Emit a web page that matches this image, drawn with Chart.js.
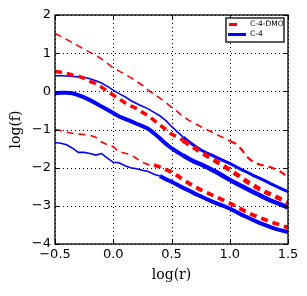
<!DOCTYPE html>
<html>
<head>
<meta charset="utf-8">
<script src="https://cdn.jsdelivr.net/npm/chart.js@4.4.1/dist/chart.umd.min.js"></script>
<style>
  html, body { margin: 0; padding: 0; background: #fff; }
  #wrap { width: 307px; height: 296px; }
</style>
</head>
<body>
<div id="wrap"><canvas id="chart" width="307" height="296"></canvas></div>
<script>
// log(r) sample points shared by every curve
var logR = [-0.5, -0.45, -0.4, -0.35, -0.3, -0.25, -0.2, -0.15, -0.1, -0.05,
    0, 0.05, 0.1, 0.15, 0.2, 0.25, 0.3, 0.35, 0.4, 0.45,
    0.5, 0.55, 0.6, 0.65, 0.7, 0.75, 0.8, 0.85, 0.9, 0.95,
    1.0, 1.05, 1.1, 1.15, 1.2, 1.25, 1.3, 1.35, 1.4, 1.45, 1.5];

// C-4-DMO (red, dashed)
var dmoTop = [1.52, 1.44, 1.36, 1.27, 1.19, 1.10, 1.02, 0.94, 0.85, 0.73,
    0.61, 0.53, 0.45, 0.36, 0.26, 0.16, 0.03, -0.07, -0.18, -0.29,
    -0.42, -0.53, -0.66, -0.76, -0.84, -0.92, -1.0, -1.07, -1.15, -1.22,
    -1.3, -1.37, -1.52, -1.72, -1.85, -1.91, -1.95, -1.99, -2.05, -2.13, -2.26];
var dmoMid = [0.52, 0.50, 0.47, 0.43, 0.40, 0.34, 0.26, 0.20, 0.11, 0.0,
    -0.1, -0.2, -0.3, -0.38, -0.45, -0.55, -0.64, -0.76, -0.88, -1.0,
    -1.12, -1.2, -1.29, -1.39, -1.49, -1.59, -1.68, -1.77, -1.87, -1.96,
    -2.06, -2.16, -2.26, -2.37, -2.46, -2.55, -2.63, -2.70, -2.77, -2.84, -2.92];
var dmoLow = [-1.0, -1.03, -1.07, -1.1, -1.12, -1.13, -1.15, -1.2, -1.33, -1.4,
    -1.45, -1.58, -1.62, -1.66, -1.76, -1.86, -1.92, -1.93, -1.98, -2.05,
    -2.11, -2.21, -2.31, -2.41, -2.5, -2.58, -2.65, -2.72, -2.79, -2.86,
    -2.93, -3.01, -3.09, -3.17, -3.24, -3.3, -3.36, -3.42, -3.47, -3.52, -3.57];

// C-4 (blue, solid)
var c4Top = [0.41, 0.41, 0.40, 0.39, 0.38, 0.37, 0.33, 0.28, 0.22, 0.13,
    0.03, -0.06, -0.14, -0.24, -0.32, -0.39, -0.46, -0.55, -0.64, -0.76,
    -0.92, -1.06, -1.2, -1.32, -1.43, -1.53, -1.61, -1.68, -1.75, -1.82,
    -1.89, -1.97, -2.05, -2.12, -2.2, -2.27, -2.34, -2.42, -2.49, -2.56, -2.63];
var c4Mid = [-0.05, -0.04, -0.04, -0.05, -0.1, -0.16, -0.23, -0.31, -0.40, -0.48,
    -0.57, -0.66, -0.72, -0.78, -0.85, -0.91, -0.98, -1.1, -1.23, -1.37,
    -1.49, -1.59, -1.68, -1.77, -1.85, -1.91, -1.98, -2.06, -2.14, -2.23,
    -2.32, -2.40, -2.48, -2.56, -2.64, -2.71, -2.79, -2.86, -2.92, -2.98, -3.04];
var c4Low = [-1.34, -1.36, -1.4, -1.49, -1.6, -1.6, -1.63, -1.67, -1.63, -1.75,
    -1.86, -1.87, -1.95, -2.0, -2.03, -2.07, -2.1, -2.17, -2.22, -2.3,
    -2.37, -2.45, -2.53, -2.6, -2.68, -2.75, -2.82, -2.89, -2.95, -3.01,
    -3.07, -3.15, -3.23, -3.3, -3.37, -3.44, -3.5, -3.56, -3.61, -3.65, -3.69];

var xTicks = [-0.5, 0.0, 0.5, 1.0, 1.5];
var yTicks = [-4, -3, -2, -1, 0, 1, 2];
var legendNames = ['C-4-DMO', 'C-4'];

var RED = '#ff0000', BLUE = '#0000ff';

function pts(ys) {
    return logR.map(function (x, i) { return {x: x, y: ys[i]}; });
}

// line gets thicker past a given log(r) (noisy tail in the original)
function widthFrom(thin, thick, xStart) {
    return function (ctx) {
        return ctx.p0.parsed.x >= xStart ? thick : thin;
    };
}

function curve(ys, color, dashed, thin, thick, xStart) {
    return {
        data: pts(ys),
        borderColor: color,
        backgroundColor: color,
        borderWidth: thin,
        borderDash: dashed ? [7, 5] : [],
        pointRadius: 0,
        tension: 0,
        fill: false,
        segment: {borderWidth: widthFrom(thin, thick, xStart)}
    };
}

function fmt(v) {
    return String(v).replace('-', '\u2212');
}

// dotted grid drawn under the curves
var gridPlugin = {
    id: 'dotgrid',
    beforeDatasetsDraw: function (chart) {
        var c = chart.ctx, a = chart.chartArea;
        var xs = chart.scales.x, ys = chart.scales.y;
        c.save();
        c.strokeStyle = '#000';
        c.lineWidth = 1;
        c.setLineDash([1, 3]);
        c.beginPath();
        xTicks.forEach(function (t) {
            var px = Math.round(xs.getPixelForValue(t)) + 0.5;
            c.moveTo(px, a.bottom); c.lineTo(px, a.top);
        });
        yTicks.forEach(function (t) {
            var py = Math.round(ys.getPixelForValue(t)) + 0.5;
            c.moveTo(a.left, py); c.lineTo(a.right, py);
        });
        c.stroke();
        c.restore();
    }
};

// frame, inward ticks and legend like matplotlib
var framePlugin = {
    id: 'frame',
    afterDraw: function (chart) {
        var c = chart.ctx, a = chart.chartArea;
        var xs = chart.scales.x, ys = chart.scales.y;
        c.save();
        c.strokeStyle = '#000';
        c.lineWidth = 1;
        c.setLineDash([]);
        c.beginPath();
        xTicks.forEach(function (t) {
            var px = Math.round(xs.getPixelForValue(t)) + 0.5;
            c.moveTo(px, a.bottom); c.lineTo(px, a.bottom - 4);
            c.moveTo(px, a.top); c.lineTo(px, a.top + 4);
        });
        yTicks.forEach(function (t) {
            var py = Math.round(ys.getPixelForValue(t)) + 0.5;
            c.moveTo(a.left, py); c.lineTo(a.left + 4, py);
            c.moveTo(a.right, py); c.lineTo(a.right - 4, py);
        });
        c.stroke();
        c.lineWidth = 1.3;
        c.strokeRect(a.left, a.top, a.right - a.left, a.bottom - a.top);

        // legend box
        var lx = a.right - 62, ly = a.top + 3, lw = 58, lh = 24;
        c.fillStyle = '#fff';
        c.fillRect(lx, ly, lw, lh);
        c.lineWidth = 1.3;
        c.strokeRect(lx, ly, lw, lh);
        c.lineWidth = 3;
        c.strokeStyle = RED;
        c.beginPath(); c.moveTo(lx + 3, ly + 6.5); c.lineTo(lx + 11, ly + 6.5); c.stroke();
        c.strokeStyle = BLUE;
        c.beginPath(); c.moveTo(lx + 2, ly + 16.5); c.lineTo(lx + 20, ly + 16.5); c.stroke();
        c.fillStyle = '#000';
        c.font = '7.5px "DejaVu Sans"';
        c.textBaseline = 'middle';
        c.fillText(legendNames[0], lx + 24, ly + 6.5);
        c.fillText(legendNames[1], lx + 24, ly + 16.5);
        c.restore();
    }
};

new Chart(document.getElementById('chart'), {
    type: 'line',
    data: {
        datasets: [
            curve(dmoTop, RED, true, 1.6, 2.2, 1.0),
            curve(dmoMid, RED, true, 3.5, 4.5, 0.6),
            curve(dmoLow, RED, true, 1.6, 3.8, 0.35),
            curve(c4Top, BLUE, false, 1.6, 3.0, 0.6),
            curve(c4Mid, BLUE, false, 4.0, 4.5, 0.6),
            curve(c4Low, BLUE, false, 1.6, 4.0, 0.4)
        ]
    },
    options: {
        responsive: false,
        animation: false,
        layout: {padding: {top: 15, right: 19, left: 0, bottom: 0}},
        plugins: {legend: {display: false}, tooltip: {enabled: false}},
        scales: {
            x: {
                type: 'linear',
                min: -0.5, max: 1.5,
                afterBuildTicks: function (s) { s.ticks = xTicks.map(function (v) { return {value: v}; }); },
                afterFit: function (s) { s.height = 52; },
                ticks: {
                    color: '#000',
                    padding: 3,
                    maxRotation: 0,
                    font: {family: '"DejaVu Sans"', size: 13},
                    callback: function (v) { return fmt(v.toFixed(1)); }
                },
                grid: {display: false, drawTicks: false},
                border: {display: false},
                title: {
                    display: true, text: 'log(r)', color: '#000',
                    font: {family: '"DejaVu Serif"', size: 14},
                    padding: {top: 0, bottom: 12}
                }
            },
            y: {
                type: 'linear',
                min: -4, max: 2,
                afterBuildTicks: function (s) { s.ticks = yTicks.map(function (v) { return {value: v}; }); },
                afterFit: function (s) { s.width = 55; },
                ticks: {
                    color: '#000',
                    padding: 4,
                    font: {family: '"DejaVu Sans"', size: 13},
                    callback: function (v) { return fmt(v); }
                },
                grid: {display: false, drawTicks: false},
                border: {display: false},
                title: {
                    display: true, text: 'log(f)', color: '#000',
                    font: {family: '"DejaVu Serif"', size: 14},
                    padding: {top: 8, bottom: 4}
                }
            }
        }
    },
    plugins: [gridPlugin, framePlugin]
});
</script>
</body>
</html>
